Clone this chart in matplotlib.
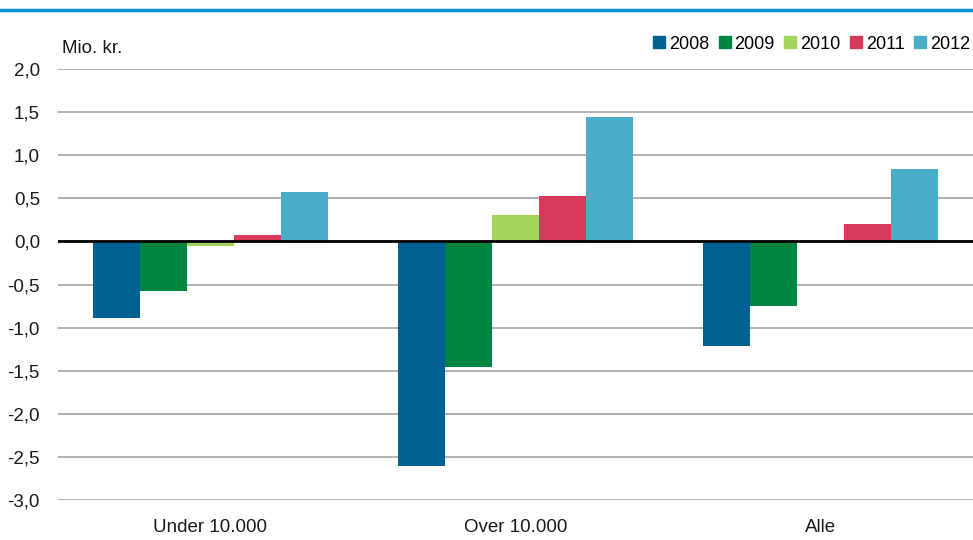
import matplotlib.pyplot as plt
import numpy as np
from matplotlib.lines import Line2D

plt.rcParams['font.family'] = ['Liberation Sans Narrow', 'Liberation Sans', 'DejaVu Sans']

categories = ["Under 10.000", "Over 10.000", "Alle"]
years = ["2008", "2009", "2010", "2011", "2012"]
values = {
    "2008": [-0.89, -2.61, -1.21],
    "2009": [-0.58, -1.46, -0.75],
    "2010": [-0.05, 0.31, 0.02],
    "2011": [0.08, 0.53, 0.20],
    "2012": [0.58, 1.44, 0.84],
}
colors = ["#006192", "#008542", "#a3d55a", "#d9395a", "#4aaec8"]
yticks = [2.0, 1.5, 1.0, 0.5, 0.0, -0.5, -1.0, -1.5, -2.0, -2.5, -3.0]

fig = plt.figure(figsize=(9.73, 5.4), dpi=100)
ax = fig.add_axes([0.0596, 0.074, 0.9404, 0.798])

x = np.arange(len(categories))
width = 0.154
for i, year in enumerate(years):
    ax.bar(x + (i - 2) * width, values[year], width, color=colors[i], label=year,
           zorder=3)

ax.set_xlim(-0.5, 2.5)
ax.set_ylim(-3.0, 2.0)
ax.set_yticks(yticks)
ax.set_yticklabels([f"{v:.1f}".replace(".", ",") for v in yticks])
ax.set_xticks(x)
ax.set_xticklabels(categories)
ax.tick_params(axis='both', length=0, labelsize=13.5, colors='#1a1a1a')
ax.tick_params(axis='y', pad=13)
ax.tick_params(axis='x', pad=14)

ax.grid(axis='y', color='#a6a6a6', linewidth=1.2, zorder=0)
ax.axhline(0, color='black', linewidth=2, zorder=4)
for s in ax.spines.values():
    s.set_visible(False)

fig.text(0.064, 0.91, "Mio. kr.", fontsize=13.5, va='center', color='#1a1a1a')

handles = [Line2D([], [], marker='s', linestyle='none', markersize=8.5,
                  markerfacecolor=c, markeredgecolor=c) for c in colors]
fig.legend(handles, years, loc='center right', bbox_to_anchor=(1.008, 0.918),
           ncol=5, frameon=False, fontsize=13, handletextpad=0.15,
           columnspacing=0.45, handlelength=0.8, borderaxespad=0.2)

fig.add_artist(Line2D([0, 1], [0.982, 0.982], color='#0090d0', linewidth=2.5,
                      transform=fig.transFigure))

fig.savefig("out.png", dpi=100)
